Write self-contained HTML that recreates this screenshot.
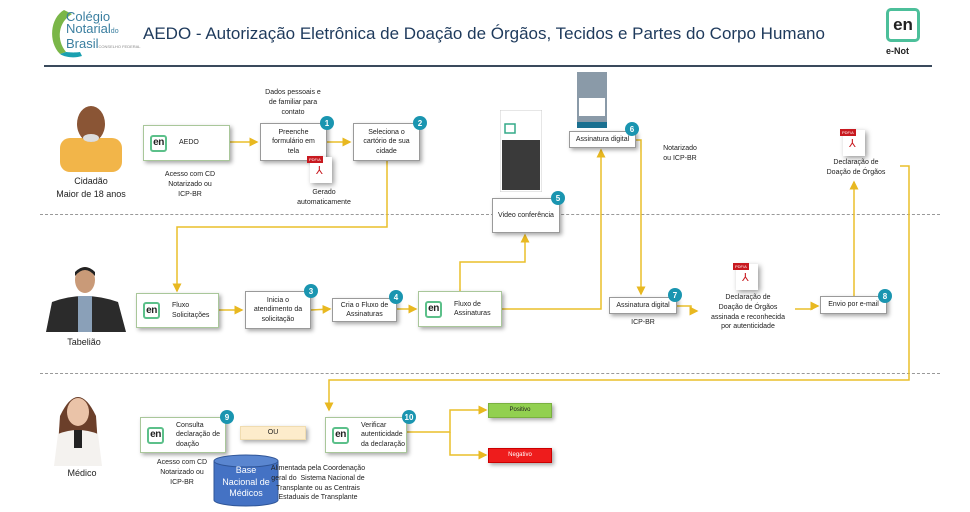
<!DOCTYPE html>
<html><head><meta charset="utf-8">
<style>
*{margin:0;padding:0;box-sizing:border-box}
body{width:970px;height:512px;background:#fff;position:relative;overflow:hidden;font-family:"Liberation Sans",sans-serif;color:#222}
.a{position:absolute}
.box{position:absolute;background:#fff;border:1px solid #9a9a9a;box-shadow:2px 2px 4px rgba(0,0,0,.35);font-size:7px;display:flex;align-items:center;justify-content:center;text-align:center;line-height:1.35}
.g{border:1px solid #a9c79a;justify-content:flex-start;text-align:left}
.en{width:17px;height:17px;border:2px solid #5cc08a;border-radius:3px;font-weight:bold;font-size:10px;display:flex;align-items:center;justify-content:center;margin:0 12px 0 6px;flex:none;font-family:"Liberation Sans",sans-serif;letter-spacing:-.5px}
.b{position:absolute;width:14px;height:14px;border-radius:50%;background:#1a95b0;color:#fff;font-size:8px;display:flex;align-items:center;justify-content:center;font-weight:bold}
.t{position:absolute;font-size:7px;text-align:center;line-height:1.4;transform:translateX(-50%);white-space:nowrap}
.pdf{position:absolute;width:22px;height:26px;background:#fff;box-shadow:2px 2px 5px rgba(0,0,0,.4)}
.pdf:before{content:"PDF/A";position:absolute;left:-3px;top:-1px;background:#c8191f;color:#fff;font-size:4px;padding:1px 2px}
.pdf:after{content:"⅄";position:absolute;left:6px;top:7px;color:#c8191f;font-size:11px}
</style></head><body>
<!-- logo -->
<svg class="a" style="left:46px;top:6px" width="90" height="52"><path d="M18 4 C4 12 2 36 14 48 L20 46 C10 34 12 16 26 8 Z" fill="#7ab648"/><path d="M14 48 C20 52 30 52 36 50 L34 46 C26 47 22 46 20 46Z" fill="#1aa0b0"/></svg>
<div class="a" style="left:66px;top:11px;font-size:13px;line-height:12px;color:#3b7fa0">Colégio<br>Notarial<span style="font-size:7px">do</span><br>Brasil<span style="font-size:4px;color:#888">CONSELHO FEDERAL</span></div>
<div class="a" style="left:143px;top:24px;font-size:17px;color:#1e3a5c">AEDO - Autorização Eletrônica de Doação de Órgãos, Tecidos e Partes do Corpo Humano</div>
<div class="a" style="left:886px;top:8px;width:34px;height:34px;border:3px solid #4cbf9a;border-radius:5px;font-weight:bold;font-size:17px;text-align:center;line-height:28px">en</div>
<div class="a" style="left:886px;top:46px;font-size:9px;font-weight:bold">e-Not</div>
<div class="a" style="left:44px;top:65px;width:888px;height:2px;background:#3a4a5c"></div>
<div class="a" style="left:40px;top:214px;width:900px;border-top:1px dashed #999"></div>
<div class="a" style="left:40px;top:373px;width:900px;border-top:1px dashed #999"></div>

<!-- people -->
<svg class="a" style="left:58px;top:100px" width="66" height="72"><rect x="2" y="38" width="62" height="34" rx="10" fill="#f2b549"/><ellipse cx="33" cy="24" rx="14" ry="18" fill="#8a5535"/><ellipse cx="33" cy="38" rx="8" ry="4" fill="#ddd"/></svg>
<div class="t" style="left:91px;top:175px;font-size:9px">Cidadão<br>Maior de 18 anos</div>
<svg class="a" style="left:44px;top:264px" width="84" height="68"><path d="M2 68 L8 38 Q40 26 74 38 L82 68Z" fill="#2b2b2b"/><rect x="34" y="32" width="14" height="36" fill="#8aa0b8"/><ellipse cx="41" cy="16" rx="10" ry="13" fill="#c99a78"/><path d="M31 12 Q41 0 51 12 L51 8 Q41 -2 31 8Z" fill="#222"/></svg>
<div class="t" style="left:84px;top:336px;font-size:9px">Tabelião</div>
<svg class="a" style="left:52px;top:386px" width="52" height="80"><path d="M8 30 Q26 -8 44 30 L46 60 L6 60Z" fill="#6b3f2a"/><ellipse cx="26" cy="26" rx="11" ry="14" fill="#eac3a8"/><path d="M2 80 L6 48 Q26 40 46 48 L50 80Z" fill="#f4f2ef"/><rect x="22" y="44" width="8" height="18" fill="#222"/></svg>
<div class="t" style="left:82px;top:467px;font-size:9px">Médico</div>

<svg class="a" style="left:0;top:0" width="970" height="512">
<defs><marker id="m" markerWidth="6" markerHeight="6" refX="5" refY="3" orient="auto"><path d="M0 0 L6 3 L0 6Z" fill="#e8b820"/></marker></defs>
<g stroke="#eabf2a" stroke-width="1.5" fill="none" marker-end="url(#m)">
<path d="M230 142 L257 142"/><path d="M327 142 L350 142"/>
<path d="M387 161 L387 227 L177 227 L177 291"/>
<path d="M219 310 L242 310"/><path d="M311 310 L330 309"/><path d="M397 309 L416 309"/>
<path d="M460 291 L460 262 L525 262 L525 235"/>
<path d="M502 309 L601 309 L601 150"/>
<path d="M636 140 L641 140 L641 294"/>
<path d="M677 306 L691 306 L691 311 L697 311"/>
<path d="M795 309 L812 309 L812 306 L818 306"/>
<path d="M854 296 L854 182"/>
<path d="M900 166 L909 166 L909 380 L329 380 L329 410"/>
<path d="M407 432 L450 432 L450 410 L486 410"/><path d="M450 432 L450 455 L486 455"/>
</g></svg>

<!-- row1 -->
<div class="t" style="left:293px;top:88px">Dados pessoais e<br>de familiar para<br>contato</div>
<div class="box g" style="left:143px;top:125px;width:87px;height:36px"><div class="en">en</div>AEDO</div>
<div class="t" style="left:190px;top:170px">Acesso com CD<br>Notarizado ou<br>ICP-BR</div>
<div class="box" style="left:260px;top:123px;width:67px;height:38px">Preenche<br>formulário em<br>tela</div><div class="b" style="left:320px;top:116px">1</div>
<div class="pdf" style="left:310px;top:157px"></div>
<div class="t" style="left:324px;top:188px">Gerado<br>automaticamente</div>
<div class="box" style="left:353px;top:123px;width:67px;height:38px">Seleciona o<br>cartório de sua<br>cidade</div><div class="b" style="left:413px;top:116px">2</div>
<svg class="a" style="left:500px;top:110px" width="42" height="82"><rect width="42" height="82" fill="#fff" stroke="#ccc"/><rect x="2" y="30" width="38" height="50" fill="#3a3a3a"/><rect x="5" y="14" width="10" height="9" fill="none" stroke="#3a8" stroke-width="1.5"/></svg>
<div class="box" style="left:492px;top:198px;width:68px;height:35px">Video conferência</div><div class="b" style="left:551px;top:191px">5</div>
<svg class="a" style="left:577px;top:72px" width="30" height="56"><rect width="30" height="56" fill="#8a9aa8"/><rect x="2" y="26" width="26" height="18" fill="#fff"/><rect x="0" y="50" width="30" height="6" fill="#1a7090"/></svg>
<div class="box" style="left:569px;top:131px;width:67px;height:17px">Assinatura digital</div><div class="b" style="left:625px;top:122px">6</div>
<div class="t" style="left:680px;top:144px">Notarizado<br>ou ICP-BR</div>
<div class="pdf" style="left:843px;top:130px"></div>
<div class="t" style="left:856px;top:158px">Declaração de<br>Doação de Órgãos</div>

<!-- row2 -->
<div class="box g" style="left:136px;top:293px;width:83px;height:35px"><div class="en">en</div>Fluxo<br>Solicitações</div>
<div class="box" style="left:245px;top:291px;width:66px;height:38px">Inicia o<br>atendimento da<br>solicitação</div><div class="b" style="left:304px;top:284px">3</div>
<div class="box" style="left:332px;top:298px;width:65px;height:24px">Cria o Fluxo de<br>Assinaturas</div><div class="b" style="left:389px;top:290px">4</div>
<div class="box g" style="left:418px;top:291px;width:84px;height:36px"><div class="en">en</div>Fluxo de<br>Assinaturas</div>
<div class="box" style="left:609px;top:297px;width:68px;height:17px">Assinatura digital</div><div class="b" style="left:668px;top:288px">7</div>
<div class="t" style="left:643px;top:318px">ICP-BR</div>
<div class="pdf" style="left:736px;top:264px"></div>
<div class="t" style="left:748px;top:293px">Declaração de<br>Doação de Órgãos<br>assinada e reconhecida<br>por autenticidade</div>
<div class="box" style="left:820px;top:296px;width:67px;height:18px">Envio por e-mail</div><div class="b" style="left:878px;top:289px">8</div>

<!-- row3 -->
<div class="box g" style="left:140px;top:417px;width:86px;height:36px"><div class="en">en</div>Consulta<br>declaração de<br>doação</div><div class="b" style="left:220px;top:410px">9</div>
<div class="box" style="left:240px;top:426px;width:66px;height:14px;background:#fdeccb;border-color:#f0dcb0">OU</div>
<div class="t" style="left:182px;top:458px">Acesso com CD<br>Notarizado ou<br>ICP-BR</div>
<svg class="a" style="left:213px;top:454px" width="66" height="54"><path d="M1 7 L1 46 A32 6 0 0 0 65 46 L65 7" fill="#4472c4" stroke="#2f5597"/><ellipse cx="33" cy="7" rx="32" ry="6" fill="#5a86d0" stroke="#2f5597"/></svg>
<div class="t" style="left:246px;top:465px;font-size:9px;color:#fff;line-height:1.3">Base<br>Nacional de<br>Médicos</div>
<div class="t" style="left:318px;top:464px">Alimentada pela Coordenação<br>geral do &nbsp;Sistema Nacional de<br>Transplante ou as Centrais<br>Estaduais de Transplante</div>
<div class="box g" style="left:325px;top:417px;width:82px;height:36px"><div class="en">en</div>Verificar<br>autenticidade<br>da declaração</div><div class="b" style="left:402px;top:410px">10</div>
<div class="box" style="left:488px;top:403px;width:64px;height:15px;background:#92d050;border-color:#7ab040;font-size:6px">Positivo</div>
<div class="box" style="left:488px;top:448px;width:64px;height:15px;background:#ee1c1c;border-color:#c00;color:#fff;font-size:6px">Negativo</div>
</body></html>
